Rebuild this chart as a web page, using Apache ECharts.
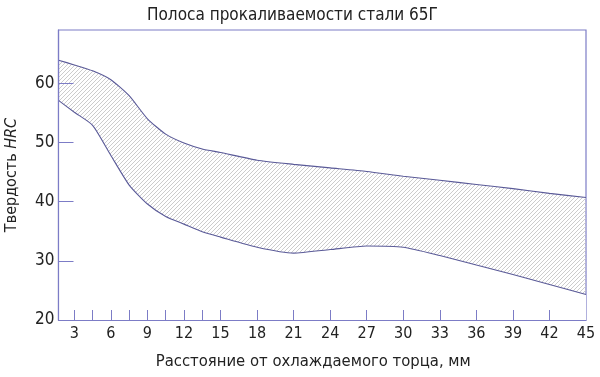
<!DOCTYPE html>
<html>
<head>
<meta charset="utf-8">
<script src="https://cdn.jsdelivr.net/npm/echarts@6/dist/echarts.min.js"></script>
<style>html,body{margin:0;padding:0;background:#fff}#c{width:600px;height:377px}</style>
</head>
<body>
<div id="c"></div>
<script>
const titleText = 'Полоса прокаливаемости стали 65Г';
const xName = 'Расстояние от охлаждаемого торца, мм';
const distances = [1.7, 3, 4.5, 6, 7.5, 9, 10.5, 12, 13.5, 15, 18, 21, 24, 27, 30, 33, 36, 39, 42, 45];
const upperHRC = [63.9, 63.1, 62.1, 60.6, 57.9, 54.0, 51.4, 49.9, 48.9, 48.3, 47.0, 46.3, 45.7, 45.1, 44.3, 43.6, 42.9, 42.2, 41.4, 40.7];
const lowerHRC = [57.1, 55.1, 52.9, 47.8, 42.8, 39.6, 37.5, 36.2, 34.9, 34.0, 32.3, 31.3, 31.9, 32.5, 32.3, 30.9, 29.3, 27.7, 26.0, 24.3];
const xLabelValues = [3, 6, 9, 12, 15, 18, 21, 24, 27, 30, 33, 36, 39, 42, 45];
const xTickValues = [3, 4.5, 6, 7.5, 9, 10.5, 12, 13.5, 15, 18, 21, 24, 27, 30, 33, 36, 39, 42];
const yLabelValues = [20, 30, 40, 50, 60];
const yTickValues = [30, 40, 50, 60];

const FONT = "'DejaVu Sans Condensed', 'Liberation Sans', sans-serif";
const AXIS = '#7c7cc6';
const CURVE = '#5a5a98';

// hatch pattern
const pc = document.createElement('canvas');
const S = 4;
pc.width = S; pc.height = S;
const g = pc.getContext('2d');
g.strokeStyle = '#c6c6c6';
g.lineWidth = 0.9;
g.beginPath();
g.moveTo(0, S); g.lineTo(S, 0);
g.moveTo(-1, 1); g.lineTo(1, -1);
g.moveTo(S - 1, S + 1); g.lineTo(S + 1, S - 1);
g.stroke();

const upperData = distances.map((d, i) => [d, upperHRC[i]]);
const lowerData = distances.map((d, i) => [d, lowerHRC[i]]);

const chart = echarts.init(document.getElementById('c'), null, {renderer: 'canvas'});
chart.setOption({
  backgroundColor: '#fff',
  animation: false,
  title: {
    text: titleText, left: 142, top: 2,
    textStyle: {fontFamily: FONT, fontSize: 17, fontWeight: 'normal', color: '#222'}
  },
  grid: {left: 58.5, right: 14, top: 30, bottom: 57, show: true, borderColor: AXIS, borderWidth: 1.2,
         containLabel: false, outerBoundsMode: 'none'},
  xAxis: {
    type: 'value', min: 1.7, max: 45, z: 10,
    name: xName, nameLocation: 'middle', nameGap: 33,
    nameTextStyle: {fontFamily: FONT, fontSize: 16.5, color: '#222', padding: [0, 18, 0, 0]},
    axisLine: {show: true, lineStyle: {color: AXIS, width: 1.2}},
    axisTick: {show: true, inside: true, length: 10, customValues: xTickValues, lineStyle: {color: AXIS}},
    axisLabel: {customValues: xLabelValues, fontFamily: FONT, fontSize: 16, color: '#222', margin: 6},
    splitLine: {show: false}
  },
  yAxis: {
    type: 'value', min: 20, max: 69, z: 10,
    name: 'Твердость {i|HRC}', nameLocation: 'middle', nameGap: 39,
    nameTextStyle: {fontFamily: FONT, fontSize: 16, color: '#222', rich: {i: {fontFamily: FONT, fontSize: 16, fontStyle: 'italic', color: '#222'}}},
    axisLine: {show: true, lineStyle: {color: AXIS, width: 1.2}},
    axisTick: {show: true, inside: true, length: 15, customValues: yTickValues, lineStyle: {color: AXIS}},
    axisLabel: {customValues: yLabelValues, fontFamily: FONT, fontSize: 17, color: '#222', margin: 4},
    splitLine: {show: false}
  },
  series: [
    {
      type: 'line', data: upperData, symbol: 'none', smooth: 0.2,
      lineStyle: {color: CURVE, width: 1.1},
      areaStyle: {color: {image: pc, repeat: 'repeat'}, opacity: 1}, z: 2
    },
    {
      type: 'line', data: lowerData, symbol: 'none', smooth: 0.2,
      lineStyle: {color: CURVE, width: 1.1},
      areaStyle: {color: '#ffffff', opacity: 1}, z: 3
    }
  ]
});
</script>
</body>
</html>
